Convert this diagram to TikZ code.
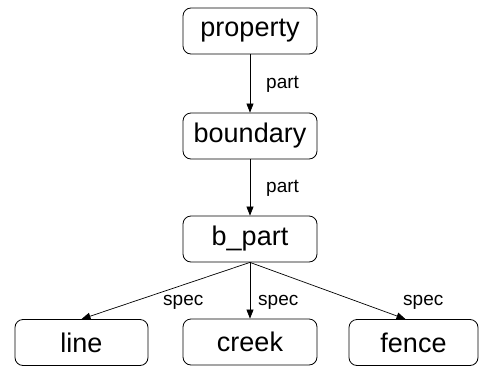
\documentclass[tikz,border=0pt]{standalone}
\usepackage{fontspec}
\setmainfont{Liberation Sans}
\usetikzlibrary{arrows.meta,calc}
\begin{document}
\begin{tikzpicture}[x=1pt,y=-1pt,
  box/.style={draw, rounded corners=8pt, line width=0.8pt, minimum width=134pt, minimum height=46pt, inner sep=0pt, font=\fontsize{27}{30}\selectfont},
  lbl/.style={font=\fontsize{19}{22}\selectfont, inner sep=0pt, anchor=west},
  conn/.style={draw, line width=0.7pt, -{Triangle[length=9pt,width=7pt]}}]
\useasboundingbox (0,0) rectangle (479,367);
\node[box] (property) at (250,31) {property};
\node[box] (boundary) at (250,136) {boundary};
\node[box] (bpart) at (250,239) {b\_part};
\node[box, minimum width=133pt] (line) at (81.5,342.5) {line};
\node[box] (creek) at (250,342) {creek};
\node[box, minimum width=129pt] (fence) at (413.5,342.5) {fence};
\coordinate (fenceend) at ($(fence.north)+(-8,0)$);
\draw[conn] (property) -- (boundary);
\draw[conn] (boundary) -- (bpart);
\draw[conn] (bpart.south) -- (line.north);
\draw[conn] (bpart.south) -- (creek.north);
\draw[conn] (bpart.south) -- (fenceend);
\node[lbl] (l1) at (266,84) {part};
\node[lbl] (l2) at (266,188) {part};
\node[lbl] (l3) at (163,302) {spec};
\node[lbl] (l4) at (258,302) {spec};
\node[lbl] (l5) at (403,302) {spec};
\end{tikzpicture}
\end{document}
